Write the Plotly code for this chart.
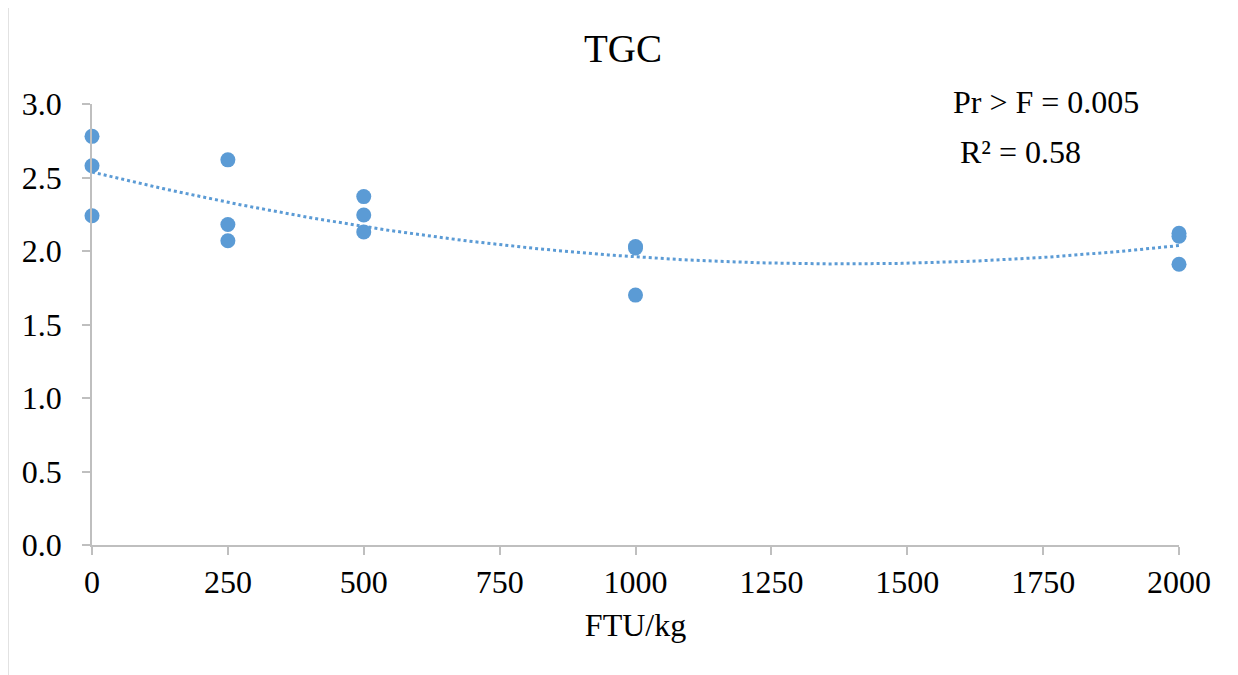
import numpy as np
import plotly.graph_objects as go

# Data
ftu = [0, 0, 0, 250, 250, 250, 500, 500, 500, 1000, 1000, 1000, 2000, 2000, 2000]
tgc = [2.78, 2.58, 2.24, 2.62, 2.18, 2.07, 2.37, 2.245, 2.13, 2.03, 2.02, 1.70, 2.12, 2.10, 1.91]
x_ticks = [0, 250, 500, 750, 1000, 1250, 1500, 1750, 2000]
y_ticks = [0.0, 0.5, 1.0, 1.5, 2.0, 2.5, 3.0]

# Quadratic trendline (as in the original spreadsheet fit)
coef = np.polyfit(ftu, tgc, 2)
xf = np.linspace(0, 2000, 201)
yf = np.polyval(coef, xf)

color = "#5B9BD5"
font = "Liberation Serif, Times New Roman, serif"
FS = 32

# page offset of the plot div (body margin) compensated in margins
L, T, PW, PH = 84, 96, 1087, 441

fig = go.Figure()
fig.add_trace(go.Scatter(x=xf, y=yf, mode="lines",
                         line=dict(color=color, width=3, dash="dot"),
                         hoverinfo="skip", showlegend=False))
fig.add_trace(go.Scatter(x=ftu, y=tgc, mode="markers",
                         marker=dict(color=color, size=15),
                         cliponaxis=False, showlegend=False))

def px_x(sx):
    return (sx - 91) / PW

def px_y(sy):
    return (545 - sy) / PH

fig.update_layout(
    width=1238, height=675,
    margin=dict(l=L, r=1238 - L - PW, t=T, b=675 - T - PH),
    paper_bgcolor="white", plot_bgcolor="white",
    font=dict(family=font, size=FS, color="black"),
    title=dict(text="TGC", x=(623 - 8) / 1238, xanchor="center", y=1 - 40 / 675, yanchor="middle",
               font=dict(family=font, size=39, color="black")),
    xaxis=dict(range=[0, 2000], tickvals=x_ticks, ticktext=[str(v) for v in x_ticks],
               showgrid=False, zeroline=False, showline=True, linecolor="#BFBFBF", linewidth=1.5,
               ticks="outside", ticklen=8, tickcolor="#BFBFBF", tickwidth=1.5,
               tickfont=dict(family=font, size=FS, color="black"),
               title=dict(text="FTU/kg", font=dict(family=font, size=FS, color="black"), standoff=14)),
    yaxis=dict(range=[0, 3], tickvals=y_ticks, ticktext=[f"{v:.1f}" for v in y_ticks],
               showgrid=False, zeroline=False, showline=True, linecolor="#BFBFBF", linewidth=1.5,
               ticks="outside", ticklen=8, tickcolor="#BFBFBF", tickwidth=1.5,
               ticklabelstandoff=14,
               tickfont=dict(family=font, size=FS, color="black")),
    annotations=[
        dict(text="Pr > F = 0.005", xref="paper", yref="paper",
             x=px_x(950), y=px_y(102), xanchor="left", yanchor="middle",
             showarrow=False, font=dict(family=font, size=FS, color="black")),
        dict(text="R² = 0.58", xref="paper", yref="paper",
             x=px_x(957), y=px_y(152), xanchor="left", yanchor="middle",
             showarrow=False, font=dict(family=font, size=FS, color="black")),
    ],
    shapes=[dict(type="rect", xref="paper", yref="paper",
                 x0=px_x(7), y0=-0.5, x1=1.2, y1=px_y(5),
                 line=dict(color="#D9D9D9", width=1.5), layer="below")],
)

fig.write_html("out.html")
